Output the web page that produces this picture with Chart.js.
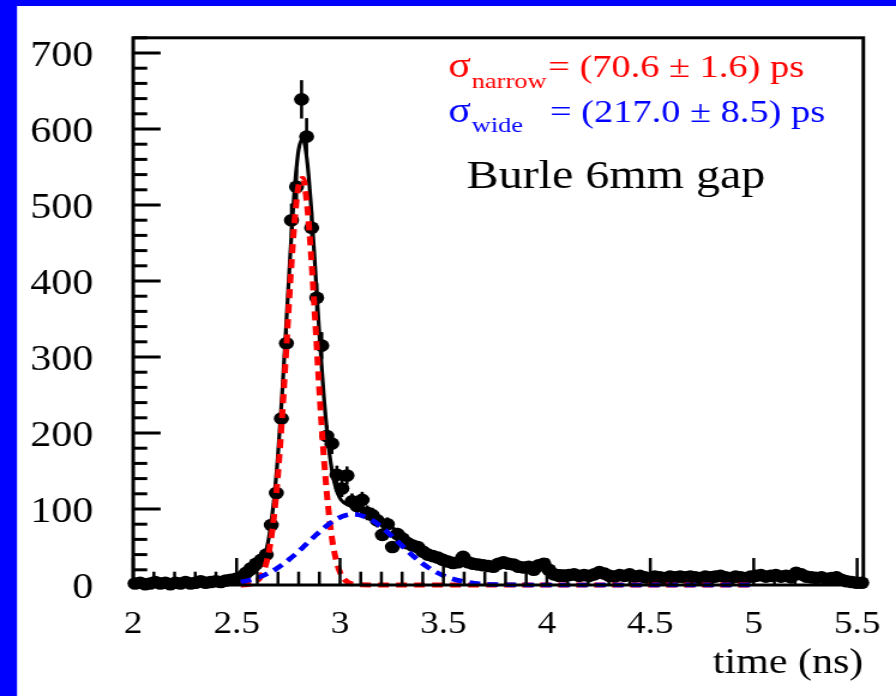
<!DOCTYPE html>
<html>
<head>
<meta charset="utf-8">
<title>Burle 6mm gap timing</title>
<script src="https://cdn.jsdelivr.net/npm/chart.js@4.4.1/dist/chart.umd.min.js"></script>
<style>
  html, body { margin: 0; padding: 0; background: #fff; overflow: hidden; }
  /* the original picture is horizontally stretched, so draw narrow and stretch */
  #wrap { width: 747px; height: 696px; transform: scaleX(1.19946); transform-origin: 0 0; }
</style>
</head>
<body>
<div id="wrap"><canvas id="timeChart" width="747" height="696"></canvas></div>
<script>
// histogram bin centres (ns) and counts
const binCenters = [
  2.0088, 2.0332, 2.0576, 2.0820, 2.1064, 2.1308, 2.1552, 2.1796, 2.2040, 2.2284,
  2.2528, 2.2772, 2.3016, 2.3260, 2.3504, 2.3748, 2.3992, 2.4236, 2.4480, 2.4724,
  2.4968, 2.5212, 2.5456, 2.5700, 2.5944, 2.6188, 2.6432, 2.6676, 2.6920, 2.7164,
  2.7408, 2.7652, 2.7896, 2.8140, 2.8384, 2.8628, 2.8872, 2.9116, 2.9360, 2.9604,
  2.9848, 3.0092, 3.0336, 3.0580, 3.0824, 3.1068, 3.1312, 3.1556, 3.1800, 3.2044,
  3.2288, 3.2532, 3.2776, 3.3020, 3.3264, 3.3508, 3.3752, 3.3996, 3.4240, 3.4484,
  3.4728, 3.4972, 3.5216, 3.5460, 3.5704, 3.5948, 3.6192, 3.6436, 3.6680, 3.6924,
  3.7168, 3.7412, 3.7656, 3.7900, 3.8144, 3.8388, 3.8632, 3.8876, 3.9120, 3.9364,
  3.9608, 3.9852, 4.0096, 4.0340, 4.0584, 4.0828, 4.1072, 4.1316, 4.1560, 4.1804,
  4.2048, 4.2292, 4.2536, 4.2780, 4.3024, 4.3268, 4.3512, 4.3756, 4.4000, 4.4244,
  4.4488, 4.4732, 4.4976, 4.5220, 4.5464, 4.5708, 4.5952, 4.6196, 4.6440, 4.6684,
  4.6928, 4.7172, 4.7416, 4.7660, 4.7904, 4.8148, 4.8392, 4.8636, 4.8880, 4.9124,
  4.9368, 4.9612, 4.9856, 5.0100, 5.0344, 5.0588, 5.0832, 5.1076, 5.1320, 5.1564,
  5.1808, 5.2052, 5.2296, 5.2540, 5.2784, 5.3028, 5.3272, 5.3516, 5.3760, 5.4004,
  5.4248, 5.4492, 5.4736, 5.4980, 5.5224
];
const counts = [
  2, 3, 1, 2, 4, 2, 3, 1, 3, 2,
  4, 2, 3, 5, 3, 4, 5, 4, 6, 7,
  8, 10, 16, 22, 28, 33, 40, 79, 121, 219,
  318, 480, 524, 639, 590, 470, 378, 315, 196, 186,
  145, 127, 144, 110, 104, 112, 95, 92, 85, 66,
  80, 50, 67, 61, 55, 52, 50, 44, 40, 38,
  36, 33, 31, 29, 30, 37, 30, 28, 27, 26,
  25, 24, 28, 30, 28, 27, 24, 23, 24, 20,
  26, 28, 20, 14, 12, 12, 13, 14, 12, 13,
  12, 14, 17, 15, 12, 11, 13, 12, 14, 11,
  12, 10, 9, 11, 10, 9, 11, 10, 11, 10,
  11, 10, 9, 11, 10, 11, 12, 10, 9, 11,
  10, 9, 11, 12, 13, 11, 12, 13, 11, 12,
  10, 16, 14, 11, 10, 9, 10, 8, 9, 10,
  7, 5, 4, 3, 3
];

// fit curves
const fitX = [
  2.52, 2.54, 2.56, 2.58, 2.60, 2.62, 2.64, 2.66, 2.68, 2.70,
  2.72, 2.74, 2.76, 2.78, 2.80, 2.82, 2.84, 2.86, 2.88, 2.90,
  2.92, 2.94, 2.96, 2.98, 3.00, 3.02, 3.04, 3.06, 3.08, 3.10,
  3.15, 3.20, 3.25, 3.30, 3.35, 3.40, 3.45, 3.50, 3.55, 3.60,
  3.65, 3.70, 3.75, 3.80, 3.90, 4.00, 4.10, 4.20, 4.30, 4.40,
  4.50, 4.60, 4.70, 4.80, 4.90, 5.00
];
const fitTotal = [
  8, 10, 12, 15, 20, 28, 42, 69, 111, 172,
  251, 344, 438, 520, 573, 587, 560, 498, 416, 330,
  254, 194, 152, 127, 114, 108, 105, 103, 101, 99,
  93, 85, 76, 67, 58, 50, 43, 37, 33, 30,
  28, 26, 25, 24, 22, 20, 18, 17, 16, 15,
  14, 13, 12.5, 12, 11.5, 11
];
const fitNarrow = [
  0.1, 0.3, 0.8, 2.2, 5.5, 12.3, 25.7, 49.7, 88.8, 145.7,
  221.4, 310, 400.7, 478, 526.5, 535, 501.6, 434.3, 346.9, 255.7,
  174, 109.2, 63.3, 33.8, 16.7, 7.6, 3.2, 1.2, 0.4, 0.2,
  0, 0, 0, 0, 0, 0, 0, 0, 0, 0,
  0, 0, 0, 0, 0, 0, 0, 0, 0, 0,
  0, 0, 0, 0, 0, 0
];
const fitWide = [
  4.0, 5.0, 6.3, 7.7, 9.5, 11.5, 13.8, 16.4, 19.4, 22.8,
  26.5, 30.5, 34.9, 39.5, 44.4, 49.4, 54.6, 59.8, 64.9, 69.9,
  74.6, 79.0, 82.9, 86.3, 89.0, 91.1, 92.4, 93.0, 92.7, 91.7,
  86.0, 76.4, 64.4, 51.5, 39.0, 28.0, 19.1, 12.4, 7.6, 4.4,
  2.4, 1.3, 0.6, 0.3, 0.05, 0, 0, 0, 0, 0,
  0, 0, 0, 0, 0, 0
];

const xTicks = [2, 2.5, 3, 3.5, 4, 4.5, 5, 5.5];
const xTickLabels = ['2', '2.5', '3', '3.5', '4', '4.5', '5', '5.5'];
const yTicks = [0, 100, 200, 300, 400, 500, 600, 700];
const yTickLabels = ['0', '100', '200', '300', '400', '500', '600', '700'];

const SERIF = '"Liberation Serif", "Times New Roman", serif';

function pts(xs, ys) {
  return xs.map((x, i) => ({ x: x, y: ys[i] }));
}

// ROOT style: blue page border, framed pad, inward ticks, error bars, text
const rootStyle = {
  id: 'rootStyle',
  beforeDraw(chart) {
    const c = chart.ctx;
    c.save();
    c.fillStyle = '#fff';
    c.fillRect(0, 0, chart.width, chart.height);
    c.fillStyle = '#0000ff';
    c.fillRect(0, 0, 14.2, chart.height);
    c.fillRect(0, 0, chart.width, 6);
    c.restore();
  },
  beforeDatasetsDraw(chart) {
    const c = chart.ctx;
    const xs = chart.scales.x, ys = chart.scales.y;
    c.save();
    c.strokeStyle = '#000';
    c.lineWidth = 2.6;
    counts.forEach((n, i) => {
      const err = Math.sqrt(n);
      const px = xs.getPixelForValue(binCenters[i]);
      c.beginPath();
      c.moveTo(px, ys.getPixelForValue(Math.max(n - err, 0)));
      c.lineTo(px, ys.getPixelForValue(n + err));
      c.stroke();
    });
    c.restore();
  },
  afterDatasetsDraw(chart) {
    const c = chart.ctx;
    const a = chart.chartArea;
    const xs = chart.scales.x, ys = chart.scales.y;
    c.save();
    c.strokeStyle = '#000';

    // x ticks (inside the frame)
    c.lineWidth = 2.5;
    for (let v = 2; v <= 5.531; v += 0.1) {
      const px = xs.getPixelForValue(v);
      const major = Math.abs(v * 2 - Math.round(v * 2)) < 1e-6;
      c.beginPath();
      c.moveTo(px, a.bottom);
      c.lineTo(px, a.bottom - (major ? 27 : 13.3));
      c.stroke();
    }
    // y ticks
    c.lineWidth = 3;
    for (let v = 0; v <= 720; v += 20) {
      const py = ys.getPixelForValue(v);
      const major = v % 100 === 0;
      c.beginPath();
      c.moveTo(a.left, py);
      c.lineTo(a.left + (major ? 22.8 : 11.7), py);
      c.stroke();
    }
    // frame
    c.lineWidth = 3;
    c.strokeRect(a.left, a.top, a.right - a.left, a.bottom - a.top);

    // tick labels
    c.fillStyle = '#000';
    c.font = '31px ' + SERIF;
    c.textAlign = 'center';
    c.textBaseline = 'alphabetic';
    xTicks.forEach((v, i) => c.fillText(xTickLabels[i], xs.getPixelForValue(v), 633));
    c.font = '35px ' + SERIF;
    c.textAlign = 'right';
    yTicks.forEach((v, i) => c.fillText(yTickLabels[i], 77.8, ys.getPixelForValue(v) + 12.5));

    // axis title
    c.font = '35px ' + SERIF;
    c.textAlign = 'right';
    c.fillText('time (ns)', a.right, 673);

    // fit results
    c.textAlign = 'left';
    c.fillStyle = '#ff0000';
    c.font = '35px ' + SERIF;
    c.fillText('σ', 373.8, 76.7);
    c.font = '22px ' + SERIF;
    c.fillText('narrow', 393.3, 88.3);
    c.font = '32px ' + SERIF;
    c.fillText('= (70.6 ± 1.6) ps', 457.1, 76.7);

    c.fillStyle = '#0000ff';
    c.font = '35px ' + SERIF;
    c.fillText('σ', 373.8, 121.7);
    c.font = '22px ' + SERIF;
    c.fillText('wide', 393.3, 131.7);
    c.font = '32px ' + SERIF;
    c.fillText('= (217.0 ± 8.5) ps', 458.5, 121.7);

    c.fillStyle = '#000';
    c.font = '40px ' + SERIF;
    c.fillText('Burle 6mm gap', 389.1, 188.3);
    c.restore();
  }
};

const ctx = document.getElementById('timeChart').getContext('2d');
new Chart(ctx, {
  type: 'scatter',
  data: {
    datasets: [{
      label: 'data',
      data: pts(binCenters, counts),
      showLine: false,
      pointRadius: 6.3,
      pointBackgroundColor: '#000',
      pointBorderColor: '#000',
      pointBorderWidth: 0,
      clip: false,
      order: 3
    }, {
      label: 'fit',
      data: pts(fitX, fitTotal),
      showLine: true,
      borderColor: '#000',
      borderWidth: 3.2,
      pointRadius: 0,
      cubicInterpolationMode: 'monotone',
      order: 2
    }, {
      label: 'narrow',
      data: pts(fitX, fitNarrow),
      showLine: true,
      borderColor: '#ff0000',
      borderWidth: 5,
      borderDash: [9, 6],
      pointRadius: 0,
      cubicInterpolationMode: 'monotone',
      clip: false,
      order: 1
    }, {
      label: 'wide',
      data: pts(fitX, fitWide),
      showLine: true,
      borderColor: '#0000ff',
      borderWidth: 4.6,
      borderDash: [9, 6],
      pointRadius: 0,
      cubicInterpolationMode: 'monotone',
      clip: false,
      order: 0
    }]
  },
  options: {
    responsive: false,
    animation: false,
    events: [],
    layout: { padding: { left: 111.05, right: 27.25, top: 37.8, bottom: 111 } },
    scales: {
      x: { type: 'linear', min: 2, max: 5.53, display: false },
      y: { type: 'linear', min: 0, max: 720, display: false }
    },
    plugins: {
      legend: { display: false },
      tooltip: { enabled: false }
    }
  },
  plugins: [rootStyle]
});
</script>
</body>
</html>
